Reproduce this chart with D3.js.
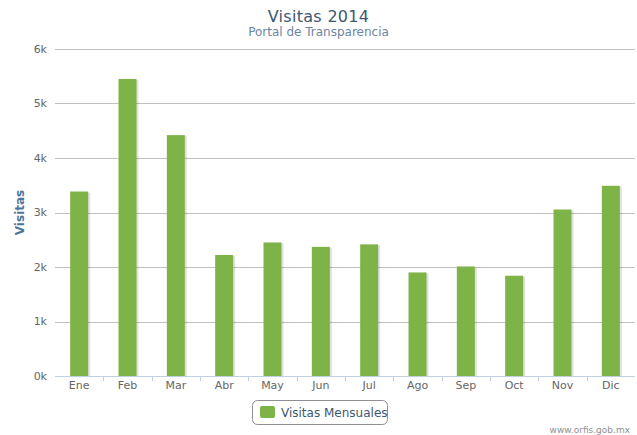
<!DOCTYPE html>
<html>
<head>
<meta charset="utf-8">
<script src="https://cdn.jsdelivr.net/npm/d3@7"></script>
<style>
  body { margin: 0; background: #fff; }
  svg { font-family: "DejaVu Sans", Verdana, sans-serif; display: block; }
</style>
</head>
<body>
<div id="chart"></div>
<script>
// monthly visits
months = ["Ene", "Feb", "Mar", "Abr", "May", "Jun", "Jul", "Ago", "Sep", "Oct", "Nov", "Dic"];
visits = [3385, 5450, 4420, 2220, 2450, 2370, 2415, 1900, 2010, 1840, 3055, 3490];
yTicks = [0, 1000, 2000, 3000, 4000, 5000, 6000];

let W = 637, H = 435;
let margin = { top: 49, right: 2, bottom: 59, left: 55 },
  width = W - margin.left - margin.right,
  height = H - margin.top - margin.bottom;

let svg = d3.select("#chart").append("svg")
  .attr("width", W)
  .attr("height", H);

let x = d3.scaleBand()
  .domain(months)
  .range([0, width]);

let y = d3.scaleLinear()
  .domain([0, 6000])
  .range([height, 0]);

let g = svg.append("g")
  .attr("transform", "translate(" + margin.left + "," + margin.top + ")");

// grid lines
g.selectAll(".grid")
  .data(yTicks.filter(d => d > 0))
  .enter().append("line")
  .attr("x1", 0)
  .attr("x2", width)
  .attr("y1", d => Math.round(y(d)) + 0.5)
  .attr("y2", d => Math.round(y(d)) + 0.5)
  .attr("stroke", "#c0c0c0")
  .attr("stroke-width", 1);

// y labels
g.selectAll(".ylab")
  .data(yTicks)
  .enter().append("text")
  .attr("x", -8)
  .attr("y", d => y(d))
  .attr("dy", "0.35em")
  .attr("text-anchor", "end")
  .attr("fill", "#666")
  .style("font-size", "11px")
  .text(d => (d / 1000) + "k");

// bars with a soft shadow
let barW = 18;
let bars = g.selectAll(".bar")
  .data(visits)
  .enter().append("g");

bars.append("rect")
  .attr("x", (d, i) => x(months[i]) + x.bandwidth() / 2 - barW / 2 + 1)
  .attr("y", d => y(d) + 1)
  .attr("width", barW + 1)
  .attr("height", d => height - y(d) - 1)
  .attr("fill", "#000")
  .attr("opacity", 0.12);

bars.append("rect")
  .attr("x", (d, i) => x(months[i]) + x.bandwidth() / 2 - barW / 2)
  .attr("y", d => y(d))
  .attr("width", barW)
  .attr("height", d => height - y(d))
  .attr("fill", "#7eb347");

// x axis
g.append("line")
  .attr("x1", 0)
  .attr("x2", width)
  .attr("y1", height + 0.5)
  .attr("y2", height + 0.5)
  .attr("stroke", "#c0d0e0");

g.selectAll(".xtick")
  .data(months.slice(1))
  .enter().append("line")
  .attr("x1", d => Math.round(x(d)) + 0.5)
  .attr("x2", d => Math.round(x(d)) + 0.5)
  .attr("y1", height)
  .attr("y2", height + 5)
  .attr("stroke", "#c0d0e0");

g.selectAll(".xlab")
  .data(months)
  .enter().append("text")
  .attr("x", d => x(d) + x.bandwidth() / 2)
  .attr("y", height + 13)
  .attr("text-anchor", "middle")
  .attr("fill", "#666")
  .style("font-size", "11px")
  .text(d => d);

// axis title
svg.append("text")
  .attr("transform", "translate(24," + (margin.top + height / 2) + ") rotate(-90)")
  .attr("text-anchor", "middle")
  .attr("fill", "#4d759e")
  .style("font-size", "12px")
  .style("font-weight", "600")
  .text("Visitas");

// titles
svg.append("text")
  .attr("x", W / 2)
  .attr("y", 22)
  .attr("text-anchor", "middle")
  .attr("fill", "#3e576f")
  .style("font-size", "16px")
  .style("letter-spacing", "0.3px")
  .text("Visitas 2014");

svg.append("text")
  .attr("x", W / 2)
  .attr("y", 36)
  .attr("text-anchor", "middle")
  .attr("fill", "#6d869f")
  .style("font-size", "12px")
  .text("Portal de Transparencia");

// legend
let legend = svg.append("g").attr("transform", "translate(252,400)");
legend.append("rect")
  .attr("x", 0.5).attr("y", 0.5)
  .attr("width", 135).attr("height", 24)
  .attr("rx", 5)
  .attr("fill", "#fff")
  .attr("stroke", "#909090");
legend.append("rect")
  .attr("x", 8).attr("y", 6)
  .attr("width", 15).attr("height", 12)
  .attr("rx", 2)
  .attr("fill", "#7eb347");
legend.append("text")
  .attr("x", 29).attr("y", 16.5)
  .attr("fill", "#3e576f")
  .style("font-size", "12px")
  .text("Visitas Mensuales");

// credits
svg.append("text")
  .attr("x", 630)
  .attr("y", 433)
  .attr("text-anchor", "end")
  .attr("fill", "#909090")
  .style("font-size", "9px")
  .text("www.orfis.gob.mx");
</script>
</body>
</html>
